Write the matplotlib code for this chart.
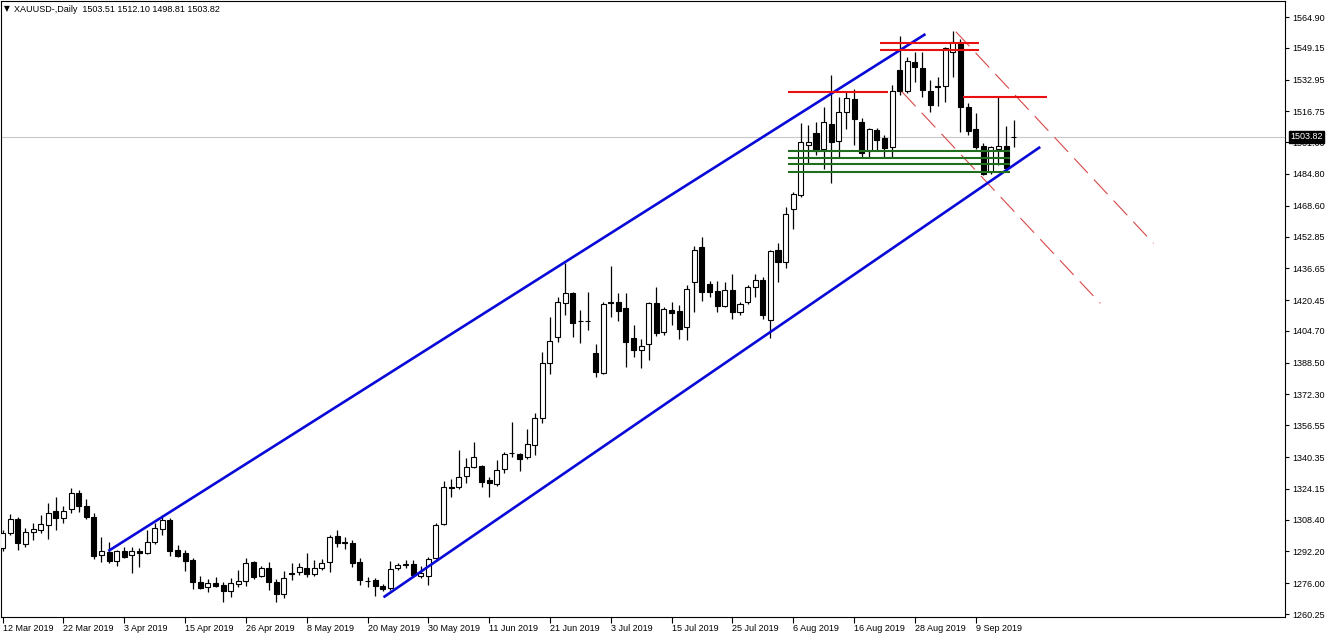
import numpy as np
import pandas as pd
import matplotlib
matplotlib.use('Agg')
import matplotlib.pyplot as plt

# trading days shown (Good Friday has no bar)
dates = [d for d in pd.bdate_range('2019-03-12', '2019-09-16')
         if d != pd.Timestamp('2019-04-19')]

opens = [
    1293.9, 1301.6, 1308.7, 1296.0, 1302.1, 1303.1, 1305.7, 1312.8, 1309.2, 1313.8,
    1322.0, 1315.4, 1309.7, 1290.4, 1291.9, 1287.3, 1292.4, 1290.4, 1292.4, 1291.4,
    1297.0, 1303.6, 1308.2, 1292.9, 1291.4, 1287.8, 1276.6, 1274.0, 1276.1, 1275.0,
    1272.0, 1275.6, 1277.1, 1286.8, 1279.6, 1283.7, 1276.6, 1270.5, 1281.2, 1281.7,
    1283.7, 1280.7, 1283.7, 1286.8, 1300.1, 1297.0, 1296.5, 1286.8, 1277.3, 1277.6,
    1274.5, 1273.5, 1283.7, 1285.3, 1285.8, 1279.6, 1279.6, 1288.8, 1306.2, 1325.1,
    1325.1, 1330.7, 1335.3, 1335.8, 1328.6, 1326.6, 1334.2, 1342.4, 1341.9, 1340.4,
    1346.5, 1360.3, 1388.3, 1401.6, 1418.9, 1424.1, 1409.8, 1409.6, 1393.4, 1383.2,
    1419.5, 1419.5, 1416.4, 1401.1, 1395.0, 1398.0, 1418.9, 1404.2, 1415.4, 1414.9,
    1406.7, 1429.7, 1447.5, 1428.7, 1425.1, 1417.4, 1425.6, 1414.4, 1419.5, 1427.1,
    1430.7, 1410.3, 1446.0, 1439.9, 1466.9, 1474.1, 1499.6, 1505.7, 1497.5, 1510.3,
    1501.6, 1516.4, 1523.1, 1511.3, 1496.5, 1507.2, 1503.2, 1498.6, 1537.9, 1527.1,
    1541.9, 1538.9, 1527.1, 1529.7, 1529.7, 1547.0, 1552.2, 1519.0, 1507.7, 1499.1,
    1485.8, 1497.5, 1499.1, 1503.51]
highs = [
    1303.1, 1311.3, 1309.7, 1304.1, 1306.7, 1310.8, 1316.9, 1320.0, 1315.4, 1324.5,
    1323.5, 1318.9, 1311.8, 1299.5, 1297.0, 1292.9, 1294.4, 1294.4, 1293.9, 1303.1,
    1306.7, 1310.8, 1309.2, 1295.5, 1292.9, 1288.8, 1279.6, 1278.1, 1279.1, 1276.6,
    1278.6, 1282.7, 1288.8, 1287.3, 1284.7, 1286.8, 1278.1, 1282.2, 1286.3, 1286.3,
    1291.4, 1287.8, 1288.3, 1300.6, 1303.1, 1299.5, 1298.0, 1288.8, 1279.1, 1278.6,
    1275.6, 1287.3, 1286.3, 1287.8, 1287.8, 1284.7, 1289.3, 1306.7, 1328.1, 1329.1,
    1343.9, 1339.9, 1348.0, 1336.3, 1330.2, 1338.8, 1342.9, 1358.2, 1342.4, 1354.7,
    1362.8, 1394.0, 1411.8, 1422.0, 1439.4, 1424.6, 1415.4, 1424.6, 1398.0, 1419.5,
    1437.8, 1424.1, 1424.1, 1407.7, 1400.6, 1419.5, 1427.1, 1416.9, 1419.5, 1417.9,
    1428.1, 1448.0, 1452.6, 1430.2, 1430.2, 1429.7, 1433.8, 1419.5, 1428.1, 1433.8,
    1432.2, 1446.0, 1449.6, 1467.9, 1475.6, 1510.8, 1509.8, 1511.3, 1519.0, 1535.3,
    1524.1, 1527.1, 1528.2, 1513.4, 1508.2, 1508.2, 1504.7, 1530.2, 1555.2, 1544.5,
    1547.0, 1547.0, 1532.8, 1534.3, 1549.6, 1557.8, 1553.7, 1521.0, 1515.9, 1500.6,
    1499.1, 1524.1, 1509.3, 1512.10]
lows = [
    1292.4, 1300.6, 1292.9, 1294.4, 1298.0, 1301.6, 1298.5, 1303.1, 1306.7, 1311.8,
    1312.3, 1308.7, 1288.3, 1286.8, 1286.3, 1284.7, 1288.8, 1281.2, 1284.2, 1291.0,
    1296.0, 1300.6, 1289.8, 1289.3, 1282.2, 1273.0, 1273.0, 1271.5, 1274.0, 1266.4,
    1268.9, 1274.0, 1274.5, 1278.1, 1279.1, 1272.5, 1266.4, 1268.4, 1277.6, 1280.2,
    1279.1, 1279.6, 1282.7, 1281.7, 1294.4, 1293.4, 1284.2, 1275.0, 1274.0, 1269.4,
    1272.0, 1272.5, 1282.7, 1283.7, 1279.1, 1278.6, 1275.0, 1288.3, 1305.7, 1320.0,
    1324.0, 1327.1, 1334.8, 1325.1, 1320.0, 1325.6, 1332.2, 1340.4, 1333.2, 1339.3,
    1341.4, 1357.7, 1382.7, 1399.1, 1412.8, 1401.6, 1398.5, 1405.2, 1381.2, 1382.7,
    1411.8, 1409.8, 1386.3, 1391.4, 1385.8, 1389.9, 1402.1, 1402.6, 1407.7, 1400.6,
    1400.1, 1414.4, 1420.0, 1422.0, 1414.4, 1416.9, 1410.8, 1412.8, 1418.5, 1422.0,
    1410.8, 1401.1, 1429.7, 1436.8, 1456.7, 1473.0, 1490.4, 1494.5, 1487.3, 1480.2,
    1493.5, 1507.7, 1499.6, 1493.5, 1493.0, 1496.5, 1493.0, 1493.5, 1525.1, 1526.1,
    1531.7, 1524.1, 1516.4, 1519.5, 1521.5, 1534.3, 1506.2, 1504.7, 1497.5, 1484.3,
    1484.8, 1489.4, 1486.3, 1498.81]
closes = [
    1301.6, 1308.7, 1296.5, 1302.1, 1303.6, 1306.2, 1311.8, 1309.2, 1312.8, 1322.0,
    1315.4, 1309.7, 1289.8, 1292.4, 1287.3, 1292.4, 1289.3, 1292.4, 1291.4, 1297.0,
    1304.1, 1308.2, 1292.4, 1289.8, 1287.3, 1276.6, 1273.5, 1276.1, 1274.5, 1272.0,
    1276.1, 1277.1, 1286.3, 1279.1, 1283.7, 1276.6, 1270.5, 1278.6, 1280.7, 1284.2,
    1280.7, 1283.7, 1286.3, 1299.5, 1296.5, 1296.5, 1286.3, 1277.6, 1277.1, 1274.5,
    1273.0, 1283.2, 1285.3, 1285.8, 1280.2, 1281.2, 1288.3, 1305.7, 1325.1, 1324.8,
    1330.2, 1335.3, 1340.4, 1327.6, 1327.1, 1333.7, 1341.9, 1342.2, 1339.3, 1347.0,
    1360.3, 1388.3, 1399.6, 1419.5, 1424.1, 1408.8, 1409.6, 1409.8, 1383.7, 1418.5,
    1419.0, 1414.9, 1399.1, 1395.0, 1397.0, 1418.9, 1403.7, 1415.9, 1413.9, 1405.7,
    1426.1, 1446.0, 1424.6, 1424.6, 1417.4, 1425.6, 1414.4, 1418.5, 1427.1, 1430.7,
    1412.8, 1445.5, 1439.9, 1464.4, 1474.6, 1501.1, 1501.1, 1496.5, 1511.3, 1501.1,
    1516.4, 1523.6, 1512.8, 1495.5, 1507.7, 1502.1, 1498.1, 1527.1, 1527.1, 1542.5,
    1539.4, 1527.6, 1520.0, 1529.4, 1549.1, 1552.2, 1519.0, 1506.7, 1498.6, 1484.8,
    1498.6, 1499.1, 1487.8, 1503.82]

last_price = 1503.82
price_ticks = [1564.90, 1549.15, 1532.95, 1516.75, 1501.00, 1484.80, 1468.60,
               1452.85, 1436.65, 1420.45, 1404.70, 1388.50, 1372.30, 1356.55,
               1340.35, 1324.15, 1308.40, 1292.20, 1276.00, 1260.25]
date_labels = ['12 Mar 2019', '22 Mar 2019', '3 Apr 2019', '15 Apr 2019',
               '26 Apr 2019', '8 May 2019', '20 May 2019', '30 May 2019',
               '11 Jun 2019', '21 Jun 2019', '3 Jul 2019', '15 Jul 2019',
               '25 Jul 2019', '6 Aug 2019', '16 Aug 2019', '28 Aug 2019',
               '9 Sep 2019']

# drawn objects: (bar index, price) anchors
channel_upper = [(13.9, 1292.4), (121.4, 1556.2)]
channel_lower = [(50.1, 1268.8), (136.5, 1498.6)]
down_upper = [(125.4, 1557.4), (151.4, 1449.4)]
down_lower = [(118.3, 1526.8), (144.4, 1418.8)]
red_levels = [(103.3, 116.5, 1526.5), (115.4, 128.5, 1551.8),
              (115.4, 128.5, 1547.9), (126.4, 137.4, 1524.1)]
green_levels = [1496.5, 1493.2, 1489.9, 1485.9]
green_span = (103.3, 132.5)

plt.rcParams['font.family'] = ['Liberation Sans', 'DejaVu Sans']

fig = plt.figure(figsize=(13.32, 6.37), dpi=100)
ax = fig.add_axes([1 / 1332, 20 / 637, 1284 / 1332, 616 / 637])

x = np.arange(len(dates))
o = np.array(opens)
h = np.array(highs)
l = np.array(lows)
c = np.array(closes)

ax.axhline(last_price, color='#c8c8c8', lw=0.8, zorder=1)

ax.vlines(x, l, h, color='black', lw=0.9, zorder=3)
up = c >= o
ax.bar(x[up], c[up] - o[up], bottom=o[up], width=0.66, facecolor='white',
       edgecolor='black', lw=0.8, zorder=4)
ax.bar(x[~up], o[~up] - c[~up], bottom=c[~up], width=0.66, facecolor='black',
       edgecolor='black', lw=0.8, zorder=4)

for pts in (channel_upper, channel_lower):
    ax.plot([pts[0][0], pts[1][0]], [pts[0][1], pts[1][1]], color='#0a0ad8',
            lw=1.9, zorder=6, solid_capstyle='butt')

for pts in (down_upper, down_lower):
    ax.plot([pts[0][0], pts[1][0]], [pts[0][1], pts[1][1]], color='#d84848',
            lw=0.8, ls=(0, (18, 8)), zorder=5)

for x0, x1, lvl in red_levels:
    ax.plot([x0, x1], [lvl, lvl], color='#e81010', lw=1.5, zorder=6,
            solid_capstyle='butt')

for lvl in green_levels:
    ax.plot(green_span, [lvl, lvl], color='#1e6e1e', lw=1.5, zorder=6,
            solid_capstyle='butt')

ax.set_xlim(-0.22, 168.7)
ax.set_ylim(1258.73, 1573.07)

ax.yaxis.tick_right()
ax.set_yticks(price_ticks)
ax.set_yticklabels(['%.2f' % v for v in price_ticks], fontsize=6.5)
ax.tick_params(axis='y', direction='out', length=3, width=0.8, pad=2)

label_idx = [next(i for i, d in enumerate(dates) if d.strftime('%-d %b %Y') == s)
             for s in date_labels]
ax.set_xticks(label_idx)
ax.set_xticklabels(date_labels, fontsize=6.5, ha='left')
ax.tick_params(axis='x', direction='out', length=4, width=0.8, pad=1)

for s in ax.spines.values():
    s.set_color('black')
    s.set_linewidth(0.8)

ax.annotate('%.2f' % last_price, xy=(1.0, last_price),
            xycoords=('axes fraction', 'data'), xytext=(4, 0),
            textcoords='offset points', va='center', ha='left', fontsize=6.5,
            color='white', annotation_clip=False, zorder=10,
            bbox=dict(boxstyle='square,pad=0.15', facecolor='black',
                      edgecolor='black'))

fig.text(4 / 1332, 1 - 9 / 637, '\u25bc', fontsize=5.5, va='center',
         family='DejaVu Sans')
fig.text(14 / 1332, 1 - 9 / 637,
         'XAUUSD-,Daily  1503.51 1512.10 1498.81 1503.82',
         fontsize=6.5, va='center')

fig.savefig('out.png', dpi=100)
